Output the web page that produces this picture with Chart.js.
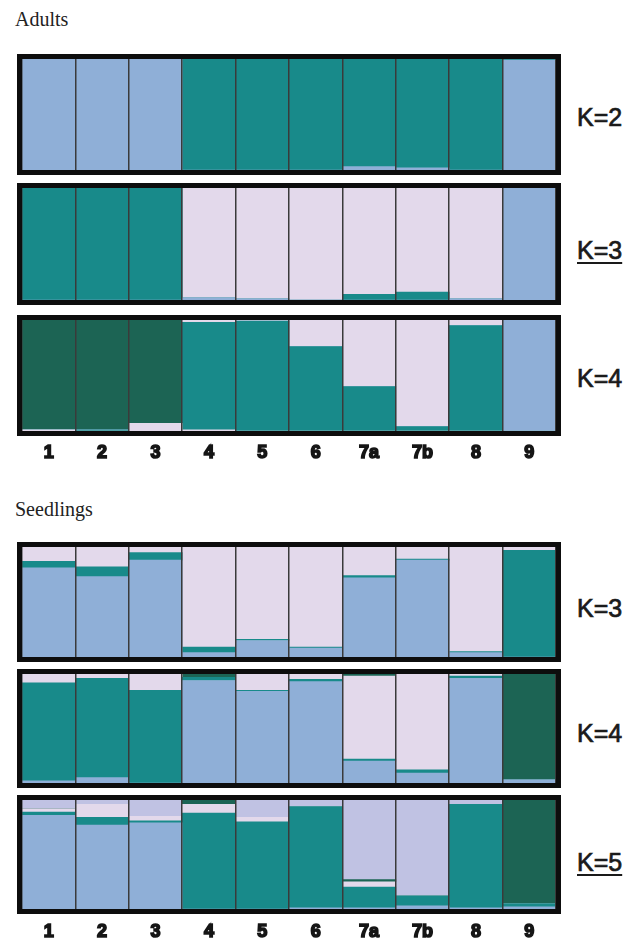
<!DOCTYPE html>
<html>
<head>
<meta charset="utf-8">
<script src="https://cdn.jsdelivr.net/npm/chart.js@4.4.1/dist/chart.umd.min.js"></script>
<style>
  html, body { margin: 0; padding: 0; background: #ffffff; }
  body { width: 635px; height: 942px; position: relative; overflow: hidden; }
  .heading { position: absolute; left: 15px; font-family: "Liberation Serif", "Times New Roman", serif; font-size: 20px; color: #222; line-height: 20px; }
  .klabel { position: absolute; left: 577px; font-family: "Liberation Sans", Arial, sans-serif; font-size: 25px; color: #1a1a1a; line-height: 25px; white-space: nowrap; -webkit-text-stroke: 0.7px #1a1a1a; }
  .klabel.u { text-decoration: underline; text-decoration-thickness: 2px; text-underline-offset: 3px; }
  .panel { position: absolute; left: 10px; }
</style>
</head>
<body>
<div class="heading" style="top:9px;">Adults</div>
<div class="heading" style="top:499px;">Seedlings</div>

<div class="klabel" style="top:105px;">K=2</div>
<div class="klabel u" style="top:238px;">K=3</div>
<div class="klabel" style="top:366px;">K=4</div>
<div class="klabel" style="top:596px;">K=3</div>
<div class="klabel" style="top:721px;">K=4</div>
<div class="klabel u" style="top:850px;">K=5</div>

<div class="panel" style="top:50px;"><canvas id="p1"></canvas></div>
<div class="panel" style="top:179px;"><canvas id="p2"></canvas></div>
<div class="panel" style="top:311px;"><canvas id="p3"></canvas></div>
<div class="panel" style="top:538px;"><canvas id="p4"></canvas></div>
<div class="panel" style="top:665px;"><canvas id="p5"></canvas></div>
<div class="panel" style="top:791px;"><canvas id="p6"></canvas></div>

<script>
// ---------- categories ----------
const populations = ['1', '2', '3', '4', '5', '6', '7a', '7b', '8', '9'];

// ---------- colours ----------
const cBlue = '#8FAFD7';
const cTeal = '#188A8A';
const cPink = '#E3D9EB';
const cDark = '#1C6454';
const cPeri = '#C0C2E3';

// ---------- Adults K=2 (stack bottom -> top) ----------
const adK2Blue = [100, 100, 100, 0, 0, 0, 3, 2, 0, 99];
const adK2Teal = [0, 0, 0, 100, 100, 100, 97, 98, 100, 1];

// ---------- Adults K=3 ----------
const adK3Blue = [0, 0, 0, 2, 1, 0, 0, 0, 1, 100];
const adK3Teal = [100, 100, 100, 0, 0, 0, 5, 7, 0, 0];
const adK3Pink = [0, 0, 0, 98, 99, 100, 95, 93, 99, 0];

// ---------- Adults K=4 ----------
const adK4PinkLow  = [1, 0, 7, 1, 0, 0, 0, 0, 0, 0];
const adK4Teal     = [0, 1, 0, 97, 99, 76, 40, 4, 95, 0];
const adK4Blue     = [0, 0, 0, 0, 0, 0, 0, 0, 0, 100];
const adK4PinkHigh = [0, 0, 0, 2, 1, 24, 60, 96, 5, 0];
const adK4Dark     = [99, 99, 93, 0, 0, 0, 0, 0, 0, 0];

// ---------- Seedlings K=3 ----------
const sdK3Blue = [81, 73, 88, 4, 15, 8, 72, 88, 4, 0];
const sdK3Teal = [6, 9, 7, 5, 1, 1, 2, 1, 1, 97];
const sdK3Pink = [13, 18, 5, 91, 84, 91, 26, 11, 95, 3];

// ---------- Seedlings K=4 ----------
const sdK4Blue = [2, 5, 0, 94, 84, 93, 20, 9, 96, 3];
const sdK4Teal = [90, 91, 85, 3, 1, 2, 2, 3, 2, 0];
const sdK4Pink = [8, 4, 15, 0, 15, 5, 76, 88, 2, 0];
const sdK4Dark = [0, 0, 0, 3, 0, 0, 2, 0, 0, 97];

// ---------- Seedlings K=5 ----------
const sdK5Blue = [86, 77, 79, 0, 0, 1, 1, 3, 1, 2];
const sdK5Teal = [3, 7, 2, 88, 80, 93, 19, 9, 95, 3];
const sdK5Pink = [3, 12, 4, 8, 4, 0, 5, 0, 0, 0];
const sdK5Dark = [0, 0, 0, 4, 0, 0, 2, 0, 0, 95];
const sdK5Peri = [8, 4, 15, 0, 16, 6, 73, 88, 4, 0];

// frame plugin: thick black box around the plot area
const framePlugin = {
  id: 'frame',
  afterDraw(chart) {
    const a = chart.chartArea, ctx = chart.ctx;
    ctx.save();
    ctx.lineWidth = 5;
    ctx.strokeStyle = '#0d0d0d';
    ctx.strokeRect(a.left - 2.5, a.top - 2.5, a.right - a.left + 5, a.bottom - a.top + 5);
    ctx.restore();
  }
};

function ds(label, data, color) {
  return { label, data, backgroundColor: color, borderWidth: 0,
           barPercentage: 1, categoryPercentage: 1 };
}

function makePanel(id, innerH, datasets, showTicks, tickPad) {
  const padTop = 9, padBottom = showTicks ? 4 : 9;
  const axisH = showTicks ? (tickPad + 20) : 0;
  const canvas = document.getElementById(id);
  canvas.width = 556;
  canvas.height = padTop + innerH + axisH + padBottom;
  canvas.style.width = canvas.width + 'px';
  canvas.style.height = canvas.height + 'px';
  new Chart(canvas, {
    type: 'bar',
    data: { labels: populations, datasets },
    options: {
      responsive: false,
      animation: false,
      devicePixelRatio: 1,
      layout: { autoPadding: false, padding: { left: 12, right: 10, top: padTop, bottom: padBottom } },
      plugins: { legend: { display: false }, tooltip: { enabled: false } },
      scales: {
        x: {
          stacked: true,
          afterFit: (scale) => { scale.height = axisH; },
          grid: { offset: true, color: '#3a3a3a', lineWidth: 1.5, drawTicks: false, z: 1 },
          border: { display: false },
          ticks: {
            display: showTicks,
            padding: tickPad || 0,
            maxRotation: 0,
            autoSkip: false,
            color: '#151515',
            textStrokeColor: '#151515',
            textStrokeWidth: 1.6,
            font: { family: '"Liberation Sans", Arial, sans-serif', size: 18, weight: 'bold' }
          }
        },
        y: { stacked: true, min: 0, max: 100, display: false }
      }
    },
    plugins: [framePlugin]
  });
}

makePanel('p1', 111, [
  ds('Cluster 1', adK2Blue, cBlue),
  ds('Cluster 2', adK2Teal, cTeal)
], false);

makePanel('p2', 112, [
  ds('Cluster 1', adK3Blue, cBlue),
  ds('Cluster 2', adK3Teal, cTeal),
  ds('Cluster 3', adK3Pink, cPink)
], false);

makePanel('p3', 111, [
  ds('Cluster 3 (lower)', adK4PinkLow, cPink),
  ds('Cluster 2', adK4Teal, cTeal),
  ds('Cluster 1', adK4Blue, cBlue),
  ds('Cluster 3', adK4PinkHigh, cPink),
  ds('Cluster 4', adK4Dark, cDark)
], true, 11);

makePanel('p4', 110, [
  ds('Cluster 1', sdK3Blue, cBlue),
  ds('Cluster 2', sdK3Teal, cTeal),
  ds('Cluster 3', sdK3Pink, cPink)
], false);

makePanel('p5', 109, [
  ds('Cluster 1', sdK4Blue, cBlue),
  ds('Cluster 2', sdK4Teal, cTeal),
  ds('Cluster 3', sdK4Pink, cPink),
  ds('Cluster 4', sdK4Dark, cDark)
], false);

makePanel('p6', 109, [
  ds('Cluster 1', sdK5Blue, cBlue),
  ds('Cluster 2', sdK5Teal, cTeal),
  ds('Cluster 3', sdK5Pink, cPink),
  ds('Cluster 4', sdK5Dark, cDark),
  ds('Cluster 5', sdK5Peri, cPeri)
], true, 12);
</script>
</body>
</html>
